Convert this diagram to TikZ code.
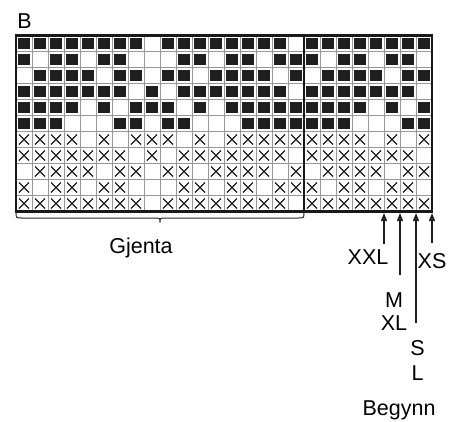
\documentclass[tikz,border=0pt]{standalone}
\usepackage{fontspec}
\setmainfont{Liberation Sans}
\usetikzlibrary{arrows.meta}
\begin{document}
\begin{tikzpicture}[x=1pt,y=-1pt,
  lbl/.style={font=\fontsize{21.5}{24}\selectfont, anchor=base, inner sep=0pt},
  cellline/.style={draw=black!40, line width=0.9pt},
  frame/.style={line width=2.6pt, draw=black!90},
  sq/.style={fill=black!88},
  xmark/.style={line width=1.2pt, draw=black!88},
  arr/.style={line width=1.3pt, draw=black!88, -{Triangle[length=8pt,width=6pt]}},
  bracestyle/.style={line width=1pt, draw=black!85}]
\useasboundingbox (0,0) rectangle (454,421);
% cell lines
\foreach \i in {1,...,25} \draw[cellline] ({16+16*\i},35.5) -- ++(0,176);
\foreach \j in {1,...,10} \draw[cellline] (16,{35.5+16*\j}) -- ++(416,0);
% pattern: 1 = filled square, 2 = cross, 0 = empty
\foreach \r/\pat in {
 0/{1,1,1,1,1,1,1,1,0,1,1,1,1,1,1,1,1,0,1,1,1,1,1,1,1,1},
 1/{1,0,1,1,0,1,1,0,0,0,1,1,0,1,1,0,1,1,1,0,1,1,0,1,1,0},
 2/{0,1,1,1,1,0,1,1,0,1,1,0,1,1,1,1,0,1,0,1,1,1,1,0,1,1},
 3/{1,1,1,1,1,1,1,0,1,0,1,1,1,1,1,1,1,0,1,1,1,1,1,1,1,0},
 4/{1,1,1,1,0,1,0,1,1,1,0,1,0,1,1,1,1,1,1,1,1,1,0,1,0,1},
 5/{1,1,1,0,0,0,1,1,0,1,1,0,0,0,1,1,1,1,1,1,1,0,0,0,1,1},
 6/{2,2,2,2,0,2,0,2,2,2,0,2,0,2,2,2,2,2,2,2,2,2,0,2,0,2},
 7/{2,2,2,2,2,2,2,0,2,0,2,2,2,2,2,2,2,0,2,2,2,2,2,2,2,0},
 8/{0,2,2,2,2,0,2,2,0,2,2,0,2,2,2,2,0,2,0,2,2,2,2,0,2,2},
 9/{2,0,2,2,0,2,2,0,0,0,2,2,0,2,2,0,2,2,2,0,2,2,0,2,2,0},
 10/{2,2,2,2,2,2,2,2,0,2,2,2,2,2,2,2,2,0,2,2,2,2,2,2,2,2}}{
  \foreach \v [count=\c from 0] in \pat {
    \pgfmathsetmacro{\cx}{24+16*\c}
    \pgfmathsetmacro{\cy}{43.5+16*\r}
    \ifnum\v=1
      \fill[sq] ({\cx-5.8},{\cy-5.8}) rectangle ({\cx+5.8},{\cy+5.8});
    \fi
    \ifnum\v=2
      \draw[xmark] ({\cx-5},{\cy-5}) -- ({\cx+5},{\cy+5}) ({\cx-5},{\cy+5}) -- ({\cx+5},{\cy-5});
    \fi
  }
}
% frame and divider
\draw[frame] (16,35.5) rectangle (432,211.5);
\draw[frame] (304,35.5) -- (304,211.5);
% brace under repeat
\draw[bracestyle] (16,212) .. controls (16,218) .. (22,218) -- (154,218)
  .. controls (160,218) .. (160,222.5) .. controls (160,218) .. (166,218)
  -- (298,218) .. controls (304,218) .. (304,212);
% labels
\node[lbl] (B) at (24.5,28) {B};
\node[lbl] (gjenta) at (141,253) {Gjenta};
\node[lbl] (xxl) at (368,264) {XXL};
\node[lbl] (xs) at (432,268) {XS};
\node[lbl] (m) at (394,307) {M};
\node[lbl] (xl) at (394,330) {XL};
\node[lbl] (s) at (417.5,355) {S};
\node[lbl] (l) at (417.5,380) {L};
\node[lbl] (begynn) at (399,415) {Begynn};
% arrows
\coordinate (t1) at (384,213); \coordinate (b1) at (384,244);
\coordinate (t2) at (400,213); \coordinate (b2) at (400,275);
\coordinate (t3) at (416,213); \coordinate (b3) at (416,323);
\coordinate (t4) at (432,213); \coordinate (b4) at (432,243);
\draw[arr] (b1) -- (t1);
\draw[arr] (b2) -- (t2);
\draw[arr] (b3) -- (t3);
\draw[arr] (b4) -- (t4);
\end{tikzpicture}
\end{document}
